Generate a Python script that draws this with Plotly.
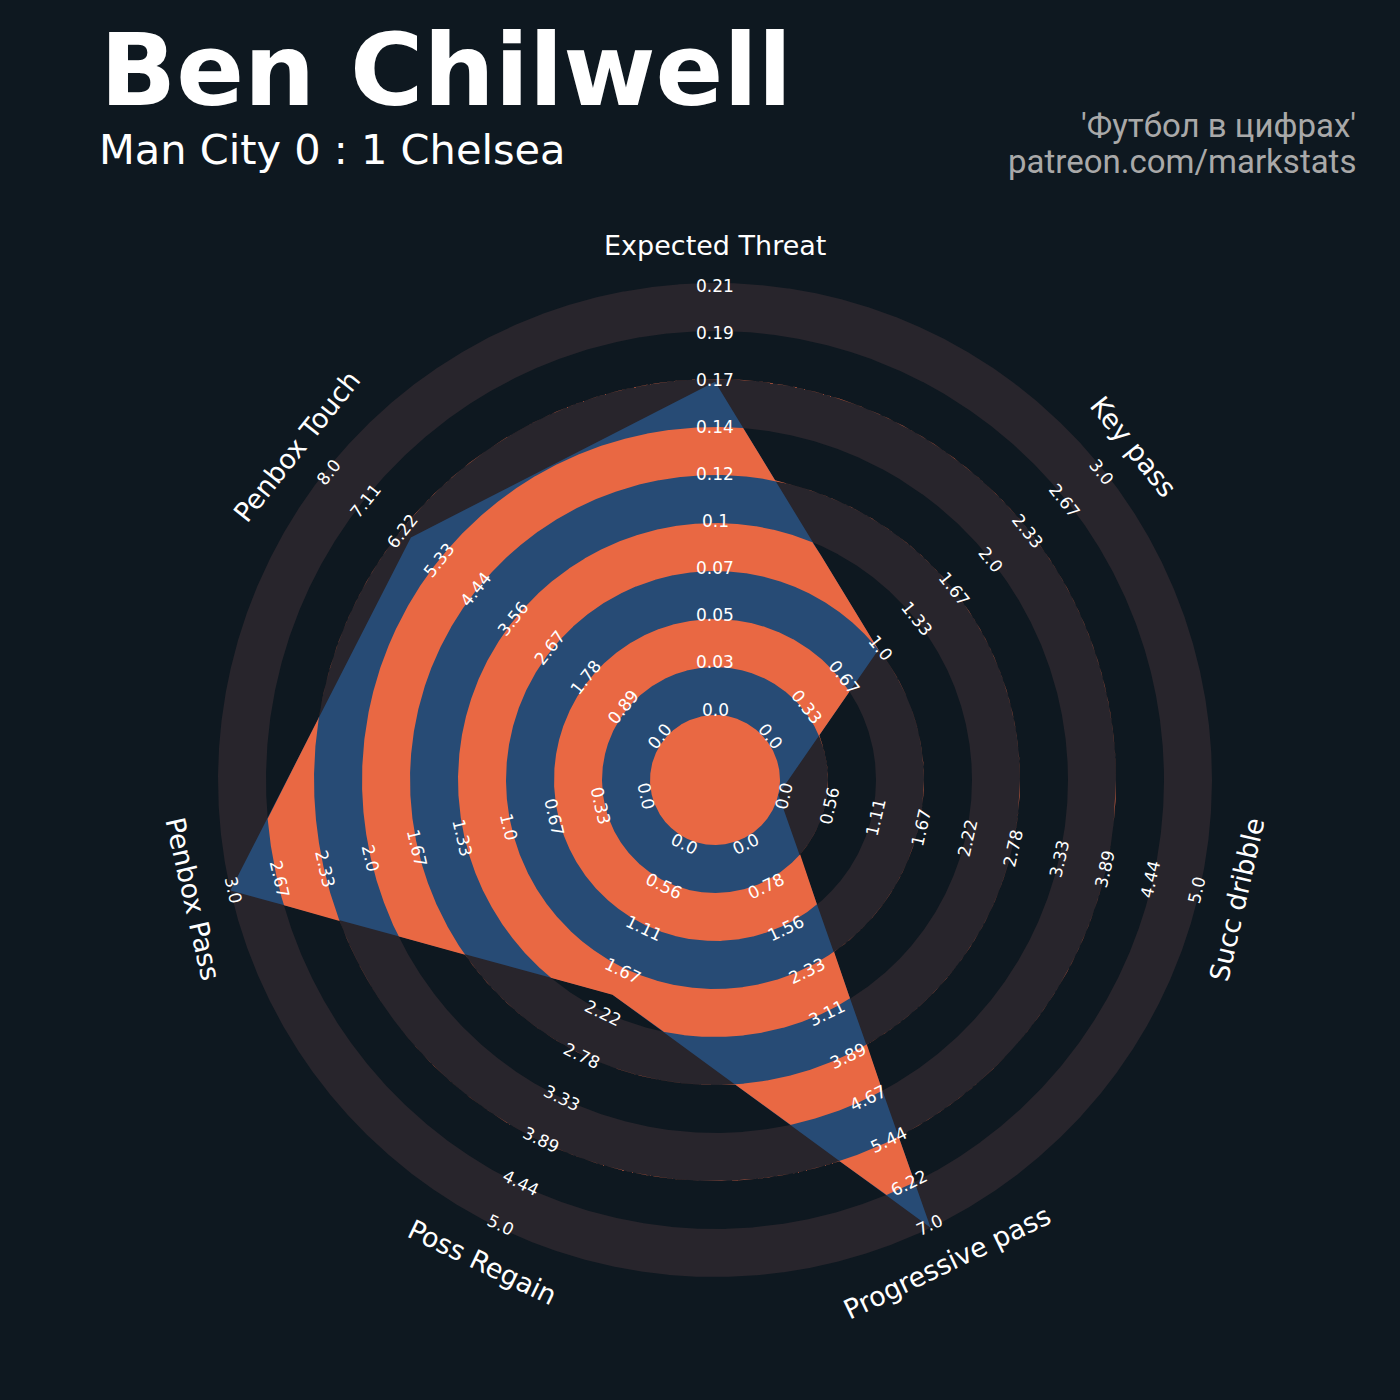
import numpy as np
import plotly.graph_objects as go

# ---------------- data ----------------
params = ["Expected Threat", "Key pass", "Succ dribble", "Progressive pass",
          "Poss Regain", "Penbox Pass", "Penbox Touch"]
values = [0.162, 1.0, 0.0, 7.0, 2.0, 3.0, 6.0]
low = [0.0, 0.0, 0.0, 0.0, 0.0, 0.0, 0.0]
high = [0.21, 3.0, 5.0, 7.0, 5.0, 3.0, 8.0]

ticks_xt = ["0.0", "0.03", "0.05", "0.07", "0.1", "0.12", "0.14", "0.17", "0.19", "0.21"]
ticks_kp = ["0.0", "0.33", "0.67", "1.0", "1.33", "1.67", "2.0", "2.33", "2.67", "3.0"]
ticks_sd = ["0.0", "0.56", "1.11", "1.67", "2.22", "2.78", "3.33", "3.89", "4.44", "5.0"]
ticks_pp = ["0.0", "0.78", "1.56", "2.33", "3.11", "3.89", "4.67", "5.44", "6.22", "7.0"]
ticks_pr = ["0.0", "0.56", "1.11", "1.67", "2.22", "2.78", "3.33", "3.89", "4.44", "5.0"]
ticks_pbp = ["0.0", "0.33", "0.67", "1.0", "1.33", "1.67", "2.0", "2.33", "2.67", "3.0"]
ticks_pbt = ["0.0", "0.89", "1.78", "2.67", "3.56", "4.44", "5.33", "6.22", "7.11", "8.0"]
tick_labels = [ticks_xt, ticks_kp, ticks_sd, ticks_pp, ticks_pr, ticks_pbp, ticks_pbt]

title = "Ben Chilwell"
subtitle = "Man City 0 : 1 Chelsea"
credit1 = "'Футбол в цифрах'"
credit2 = "patreon.com/markstats"

# ---------------- style ----------------
BG = "#0E1820"
RING = "#28252C"
BLUE = "#274B75"
ORANGE = "#E96843"
R0 = 65.0        # centre circle radius (px units)
W = 48.0         # band width
NB = 9           # number of bands outside the centre circle
LAB_R0 = 70.5
LAB_STEP = 47.06
PARAM_R = 535.0

n = len(params)
cw = np.array([i * 360.0 / n for i in range(n)])          # clockwise from top
ang = np.radians(90.0 - cw)
rad = np.array([R0 + (v - lo) / (hi - lo) * NB * W for v, lo, hi in zip(values, low, high)])
vx = rad * np.cos(ang)
vy = rad * np.sin(ang)


def rpoly(phi):
    """radius of the radar polygon along direction phi"""
    dx, dy = np.cos(phi), np.sin(phi)
    out = np.full(phi.shape, np.nan)
    for i in range(n):
        j = (i + 1) % n
        px, py = vx[i], vy[i]
        ex, ey = vx[j] - px, vy[j] - py
        den = dx * ey - dy * ex
        with np.errstate(divide="ignore", invalid="ignore"):
            s = (px * ey - py * ex) / den
            t = (px * dy - py * dx) / den
        ok = (t >= -1e-9) & (t <= 1 + 1e-9) & (s > 0) & np.isnan(out)
        out[ok] = s[ok]
    return out


NPT = 2880
phi = np.linspace(0, 2 * np.pi, NPT)
rp = rpoly(phi)

fig = go.Figure()


def add_band(r_in, r_out, color, clip):
    ro = np.clip(rp, r_in, r_out) if clip else np.full(phi.shape, r_out)
    xs = list(ro * np.cos(phi))
    ys = list(ro * np.sin(phi))
    if r_in > 0:
        xs += list(r_in * np.cos(phi[::-1]))
        ys += list(r_in * np.sin(phi[::-1]))
    fig.add_trace(go.Scatter(x=xs, y=ys, mode="lines", fill="toself",
                             fillcolor=color, line=dict(width=0, color=color),
                             hoverinfo="skip", showlegend=False))


# grey rings (outside polygon look)
for k in range(0, NB, 2):
    add_band(R0 + k * W, R0 + (k + 1) * W, RING, clip=False)

# blue radar polygon
fig.add_trace(go.Scatter(x=list(vx) + [vx[0]], y=list(vy) + [vy[0]], mode="lines",
                         fill="toself", fillcolor=BLUE, line=dict(width=0, color=BLUE),
                         hoverinfo="skip", showlegend=False))

# orange rings clipped to polygon
add_band(0.0, R0, ORANGE, clip=True)
for k in range(1, NB, 2):
    add_band(R0 + k * W, R0 + (k + 1) * W, ORANGE, clip=True)

annotations = []


def text_angle(c):
    if 90 < c < 270:
        return c - 180
    if c >= 270:
        return c - 360
    return c


for i in range(n):
    ta = text_angle(cw[i])
    for j, lab in enumerate(tick_labels[i]):
        r = LAB_R0 + j * LAB_STEP
        annotations.append(dict(x=r * np.cos(ang[i]), y=r * np.sin(ang[i]), xref="x", yref="y",
                                text=lab, showarrow=False, textangle=ta,
                                xanchor="center", yanchor="middle",
                                font=dict(family="DejaVu Sans", size=17, color="white")))
    annotations.append(dict(x=PARAM_R * np.cos(ang[i]), y=PARAM_R * np.sin(ang[i]), xref="x", yref="y",
                            text=params[i], showarrow=False, textangle=ta,
                            xanchor="center", yanchor="middle",
                            font=dict(family="DejaVu Sans", size=27, color="white")))

annotations += [
    dict(x=98 / 1400, y=1 - 70 / 1400, xref="paper", yref="paper", text="<b>" + title + "</b>",
         showarrow=False, xanchor="left", yanchor="middle",
         font=dict(family="DejaVu Sans", size=100, color="white")),
    dict(x=97 / 1400, y=1 - 149 / 1400, xref="paper", yref="paper", text=subtitle,
         showarrow=False, xanchor="left", yanchor="middle",
         font=dict(family="DejaVu Sans", size=41.5, color="white")),
    dict(x=1358 / 1400, y=1 - 126 / 1400, xref="paper", yref="paper", text=credit1,
         showarrow=False, xanchor="right", yanchor="middle",
         font=dict(family="Roboto", size=33, color="#A9A9A9")),
    dict(x=1358 / 1400, y=1 - 162 / 1400, xref="paper", yref="paper", text=credit2,
         showarrow=False, xanchor="right", yanchor="middle",
         font=dict(family="Roboto", size=33, color="#A9A9A9")),
]

fig.update_layout(
    width=1400, height=1400, margin=dict(l=0, r=0, t=0, b=0),
    paper_bgcolor=BG, plot_bgcolor=BG, showlegend=False,
    xaxis=dict(range=[-715, 685], visible=False, fixedrange=True, domain=[0, 1]),
    yaxis=dict(range=[-620, 780], visible=False, fixedrange=True, domain=[0, 1]),
    annotations=annotations,
)

fig.write_html("out.html",
               config={"displayModeBar": False},
               post_script="document.body.style.margin='0';"
                           "document.body.style.background='" + BG + "';"
                           "document.body.style.overflow='hidden';")
